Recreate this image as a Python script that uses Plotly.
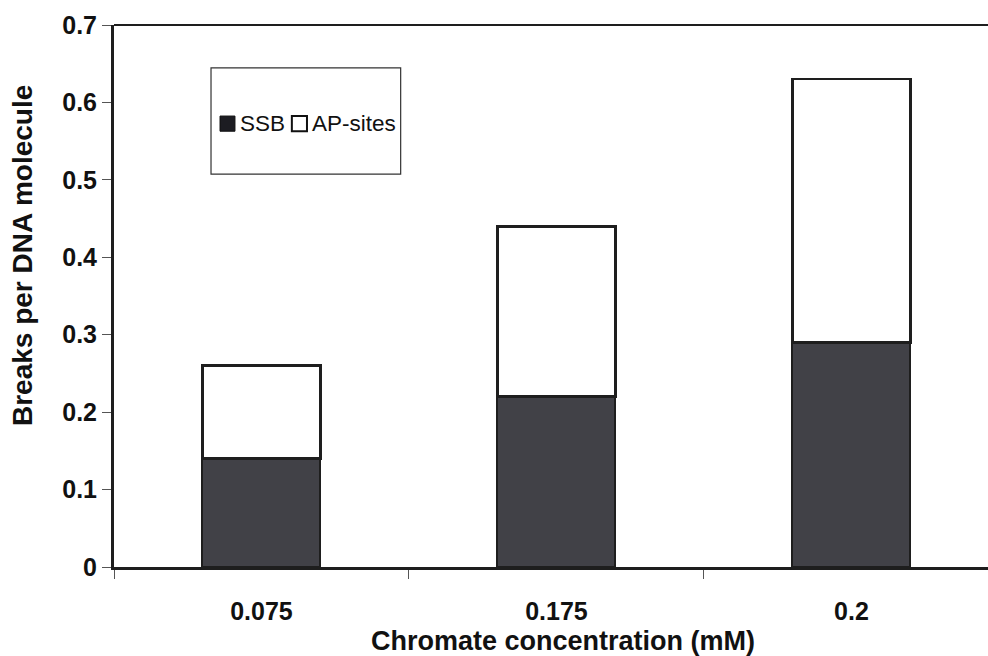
import plotly.graph_objects as go

# Strand breaks per DNA molecule at each chromate concentration
categories = ["0.075", "0.175", "0.2"]
ssb = [0.14, 0.22, 0.29]          # single-strand breaks
ap_sites = [0.12, 0.22, 0.34]     # AP-sites stacked on top (totals 0.26, 0.44, 0.63)
y_ticks = [0, 0.1, 0.2, 0.3, 0.4, 0.5, 0.6, 0.7]
y_tick_text = ["0", "0.1", "0.2", "0.3", "0.4", "0.5", "0.6", "0.7"]

FONT = "Liberation Sans, Arial, sans-serif"
DARK = "#414147"
LINE = "#1e1e1e"

fig = go.Figure()
fig.add_trace(go.Bar(
    x=categories, y=ssb, name="SSB", width=0.4,
    marker=dict(color=DARK, line=dict(color=LINE, width=2)),
    showlegend=False,
))
fig.add_trace(go.Bar(
    x=categories, y=ap_sites, name="AP-sites", width=0.4,
    marker=dict(color="white", line=dict(color=LINE, width=2.5)),
    showlegend=False,
))

# legend drawn as a framed box with swatches
shapes = [
    dict(type="line", xref="paper", yref="paper", x0=0, x1=1, y0=1, y1=1,
         line=dict(color=LINE, width=2)),
    dict(type="rect", xref="paper", yref="paper", x0=0.111, x1=0.328,
         y0=0.725, y1=0.921, line=dict(color="#333", width=1.2),
         fillcolor="white", layer="above"),
    dict(type="rect", xref="paper", yref="paper", x0=0.1213, x1=0.1384,
         y0=0.804, y1=0.832, line=dict(color="#111", width=1),
         fillcolor="#1c1c22", layer="above"),
    dict(type="rect", xref="paper", yref="paper", x0=0.2035, x1=0.2208,
         y0=0.804, y1=0.832, line=dict(color="#111", width=2),
         fillcolor="white", layer="above"),
]
annotations = [
    dict(text="SSB", xref="paper", yref="paper", x=0.1418, y=0.818,
         xanchor="left", yanchor="middle", showarrow=False,
         font=dict(family=FONT, size=22.5, color="#111")),
    dict(text="AP-sites", xref="paper", yref="paper", x=0.2245, y=0.818,
         xanchor="left", yanchor="middle", showarrow=False,
         font=dict(family=FONT, size=22.5, color="#111")),
    # axis titles
    dict(text="Chromate concentration (mM)", xref="paper", yref="paper",
         x=0.5137, y=-0.1365, xanchor="center", yanchor="middle",
         showarrow=False,
         font=dict(family=FONT, size=27, weight="bold", color="#111")),
    dict(text="Breaks per DNA molecule", xref="paper", yref="paper",
         x=-0.1053, y=0.5756, xanchor="center", yanchor="middle",
         textangle=-90, showarrow=False,
         font=dict(family=FONT, size=28, weight="bold", color="#111")),
]

fig.update_layout(
    width=988, height=656,
    margin=dict(l=114, r=0, t=25, b=89),
    barmode="stack",
    plot_bgcolor="white", paper_bgcolor="white",
    font=dict(family=FONT, color="#111"),
    shapes=shapes, annotations=annotations,
    xaxis=dict(
        type="category", range=[-0.5, 2.463],
        showline=True, linecolor=LINE, linewidth=3,
        ticks="outside", tickson="boundaries", ticklen=9, tickcolor="#555",
        tickwidth=1, showgrid=False,
        tickfont=dict(family=FONT, size=25, weight="bold"),
        ticklabelstandoff=20,
    ),
    yaxis=dict(
        range=[0, 0.7], tickvals=y_ticks, ticktext=y_tick_text,
        showline=True, linecolor=LINE, linewidth=3,
        ticks="outside", ticklen=9, tickcolor="#555", tickwidth=1,
        showgrid=False, zeroline=False,
        tickfont=dict(family=FONT, size=25, weight="bold"),
        ticklabelstandoff=0,
    ),
)

fig.write_html("out.html")
